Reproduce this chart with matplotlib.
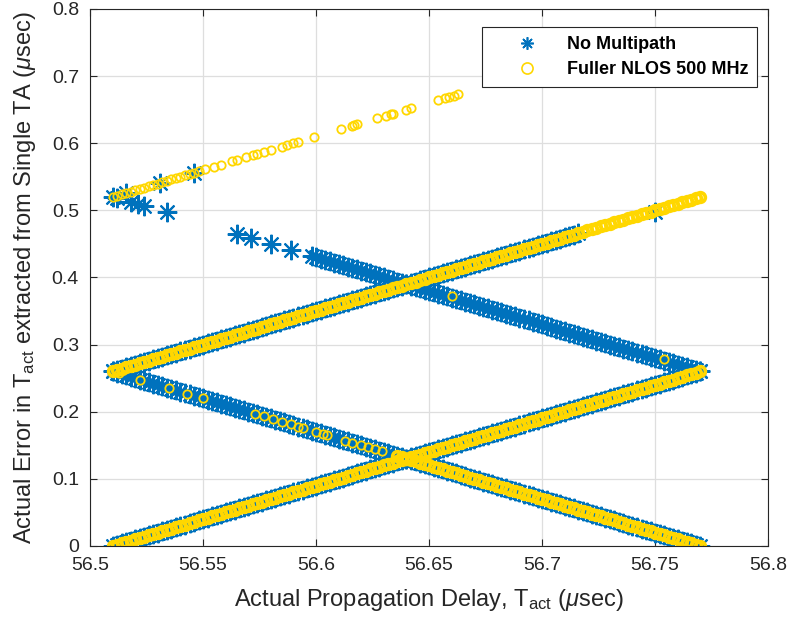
import matplotlib
matplotlib.use("Agg")
import numpy as np
import matplotlib.pyplot as plt
from matplotlib.lines import Line2D

# actual propagation delay grid (usec), shared by both runs
x_grid = [
    56.510, 56.512, 56.514, 56.516, 56.518, 56.520, 56.522, 56.524, 56.526, 56.528,
    56.530, 56.532, 56.534, 56.536, 56.538, 56.540, 56.542, 56.544, 56.546, 56.548,
    56.550, 56.552, 56.554, 56.556, 56.558, 56.560, 56.562, 56.564, 56.566, 56.568,
    56.570, 56.572, 56.574, 56.576, 56.578, 56.580, 56.582, 56.584, 56.586, 56.588,
    56.590, 56.592, 56.594, 56.596, 56.598, 56.600, 56.602, 56.604, 56.606, 56.608,
    56.610, 56.612, 56.614, 56.616, 56.618, 56.620, 56.622, 56.624, 56.626, 56.628,
    56.630, 56.632, 56.634, 56.636, 56.638, 56.640, 56.642, 56.644, 56.646, 56.648,
    56.650, 56.652, 56.654, 56.656, 56.658, 56.660, 56.662, 56.664, 56.666, 56.668,
    56.670, 56.672, 56.674, 56.676, 56.678, 56.680, 56.682, 56.684, 56.686, 56.688,
    56.690, 56.692, 56.694, 56.696, 56.698, 56.700, 56.702, 56.704, 56.706, 56.708,
    56.710, 56.712, 56.714, 56.716, 56.718, 56.720, 56.722, 56.724, 56.726, 56.728,
    56.730, 56.732, 56.734, 56.736, 56.738, 56.740, 56.742, 56.744, 56.746, 56.748,
    56.750, 56.752, 56.754, 56.756, 56.758, 56.760, 56.762, 56.764, 56.766, 56.768,
    56.770]

# error branches on that grid (usec)
err_rise = [
    0.000, 0.002, 0.004, 0.006, 0.008, 0.010, 0.012, 0.014, 0.016, 0.018,
    0.020, 0.022, 0.024, 0.026, 0.028, 0.030, 0.032, 0.034, 0.036, 0.038,
    0.040, 0.042, 0.044, 0.046, 0.048, 0.050, 0.052, 0.054, 0.056, 0.058,
    0.060, 0.062, 0.064, 0.066, 0.068, 0.070, 0.072, 0.074, 0.076, 0.078,
    0.080, 0.082, 0.084, 0.086, 0.088, 0.090, 0.092, 0.094, 0.096, 0.098,
    0.100, 0.102, 0.104, 0.106, 0.108, 0.110, 0.112, 0.114, 0.116, 0.118,
    0.120, 0.122, 0.124, 0.126, 0.128, 0.130, 0.132, 0.134, 0.136, 0.138,
    0.140, 0.142, 0.144, 0.146, 0.148, 0.150, 0.152, 0.154, 0.156, 0.158,
    0.160, 0.162, 0.164, 0.166, 0.168, 0.170, 0.172, 0.174, 0.176, 0.178,
    0.180, 0.182, 0.184, 0.186, 0.188, 0.190, 0.192, 0.194, 0.196, 0.198,
    0.200, 0.202, 0.204, 0.206, 0.208, 0.210, 0.212, 0.214, 0.216, 0.218,
    0.220, 0.222, 0.224, 0.226, 0.228, 0.230, 0.232, 0.234, 0.236, 0.238,
    0.240, 0.242, 0.244, 0.246, 0.248, 0.250, 0.252, 0.254, 0.256, 0.258,
    0.260]
err_fall = [
    0.260, 0.258, 0.256, 0.254, 0.252, 0.250, 0.248, 0.246, 0.244, 0.242,
    0.240, 0.238, 0.236, 0.234, 0.232, 0.230, 0.228, 0.226, 0.224, 0.222,
    0.220, 0.218, 0.216, 0.214, 0.212, 0.210, 0.208, 0.206, 0.204, 0.202,
    0.200, 0.198, 0.196, 0.194, 0.192, 0.190, 0.188, 0.186, 0.184, 0.182,
    0.180, 0.178, 0.176, 0.174, 0.172, 0.170, 0.168, 0.166, 0.164, 0.162,
    0.160, 0.158, 0.156, 0.154, 0.152, 0.150, 0.148, 0.146, 0.144, 0.142,
    0.140, 0.138, 0.136, 0.134, 0.132, 0.130, 0.128, 0.126, 0.124, 0.122,
    0.120, 0.118, 0.116, 0.114, 0.112, 0.110, 0.108, 0.106, 0.104, 0.102,
    0.100, 0.098, 0.096, 0.094, 0.092, 0.090, 0.088, 0.086, 0.084, 0.082,
    0.080, 0.078, 0.076, 0.074, 0.072, 0.070, 0.068, 0.066, 0.064, 0.062,
    0.060, 0.058, 0.056, 0.054, 0.052, 0.050, 0.048, 0.046, 0.044, 0.042,
    0.040, 0.038, 0.036, 0.034, 0.032, 0.030, 0.028, 0.026, 0.024, 0.022,
    0.020, 0.018, 0.016, 0.014, 0.012, 0.010, 0.008, 0.006, 0.004, 0.002,
    0.000]
err_rise_hi = [
    0.260, 0.262, 0.264, 0.266, 0.268, 0.270, 0.272, 0.274, 0.276, 0.278,
    0.280, 0.282, 0.284, 0.286, 0.288, 0.290, 0.292, 0.294, 0.296, 0.298,
    0.300, 0.302, 0.304, 0.306, 0.308, 0.310, 0.312, 0.314, 0.316, 0.318,
    0.320, 0.322, 0.324, 0.326, 0.328, 0.330, 0.332, 0.334, 0.336, 0.338,
    0.340, 0.342, 0.344, 0.346, 0.348, 0.350, 0.352, 0.354, 0.356, 0.358,
    0.360, 0.362, 0.364, 0.366, 0.368, 0.370, 0.372, 0.374, 0.376, 0.378,
    0.380, 0.382, 0.384, 0.386, 0.388, 0.390, 0.392, 0.394, 0.396, 0.398,
    0.400, 0.402, 0.404, 0.406, 0.408, 0.410, 0.412, 0.414, 0.416, 0.418,
    0.420, 0.422, 0.424, 0.426, 0.428, 0.430, 0.432, 0.434, 0.436, 0.438,
    0.440, 0.442, 0.444, 0.446, 0.448, 0.450, 0.452, 0.454, 0.456, 0.458,
    0.460, 0.462, 0.464, 0.466, 0.468, 0.470, 0.472, 0.474, 0.476, 0.478,
    0.480, 0.482, 0.484, 0.486, 0.488, 0.490, 0.492, 0.494, 0.496, 0.498,
    0.500, 0.502, 0.504, 0.506, 0.508, 0.510, 0.512, 0.514, 0.516, 0.518,
    0.520]
# upper falling branch, dense part (x_grid from 56.598 on)
err_fall_hi = [
    0.432, 0.430, 0.428, 0.426, 0.424, 0.422,
    0.420, 0.418, 0.416, 0.414, 0.412, 0.410, 0.408, 0.406, 0.404, 0.402,
    0.400, 0.398, 0.396, 0.394, 0.392, 0.390, 0.388, 0.386, 0.384, 0.382,
    0.380, 0.378, 0.376, 0.374, 0.372, 0.370, 0.368, 0.366, 0.364, 0.362,
    0.360, 0.358, 0.356, 0.354, 0.352, 0.350, 0.348, 0.346, 0.344, 0.342,
    0.340, 0.338, 0.336, 0.334, 0.332, 0.330, 0.328, 0.326, 0.324, 0.322,
    0.320, 0.318, 0.316, 0.314, 0.312, 0.310, 0.308, 0.306, 0.304, 0.302,
    0.300, 0.298, 0.296, 0.294, 0.292, 0.290, 0.288, 0.286, 0.284, 0.282,
    0.280, 0.278, 0.276, 0.274, 0.272, 0.270, 0.268, 0.266, 0.264, 0.262,
    0.260]

# No Multipath: isolated points
nomp_x = [56.510, 56.516, 56.531, 56.546,
          56.512, 56.518, 56.521, 56.524, 56.534,
          56.565, 56.571, 56.580, 56.589, 56.750]
nomp_y = [0.520, 0.526, 0.541, 0.556,
          0.518, 0.512, 0.509, 0.506, 0.497,
          0.465, 0.459, 0.450, 0.441, 0.498]

# Fuller NLOS 500 MHz: isolated points
nlos_top_x = [56.510, 56.512, 56.514, 56.516, 56.518, 56.520, 56.522, 56.524, 56.526, 56.528,
              56.530, 56.532, 56.534, 56.536, 56.538, 56.540, 56.542, 56.544, 56.546, 56.548,
              56.551, 56.555, 56.558, 56.563, 56.565, 56.569, 56.572, 56.574, 56.577, 56.580,
              56.585, 56.587, 56.590, 56.592, 56.599, 56.611, 56.616, 56.617, 56.618, 56.627,
              56.631, 56.633, 56.634, 56.640, 56.642, 56.654, 56.657, 56.659, 56.661, 56.663]
nlos_top_y = [0.520, 0.522, 0.524, 0.526, 0.528, 0.530, 0.532, 0.534, 0.536, 0.538,
              0.540, 0.542, 0.544, 0.546, 0.548, 0.550, 0.552, 0.554, 0.556, 0.558,
              0.561, 0.565, 0.568, 0.573, 0.575, 0.579, 0.582, 0.584, 0.587, 0.590,
              0.595, 0.597, 0.600, 0.602, 0.609, 0.621, 0.626, 0.627, 0.628, 0.637,
              0.641, 0.643, 0.644, 0.650, 0.652, 0.664, 0.667, 0.669, 0.671, 0.673]
nlos_fall_x = [56.513, 56.522, 56.535, 56.543, 56.550, 56.573, 56.577, 56.581, 56.585, 56.589,
               56.592, 56.594, 56.600, 56.603, 56.605, 56.613, 56.616, 56.620, 56.623, 56.626,
               56.629, 56.660, 56.754]
nlos_fall_y = [0.257, 0.248, 0.235, 0.227, 0.220, 0.197, 0.193, 0.189, 0.185, 0.181,
               0.178, 0.176, 0.170, 0.167, 0.165, 0.157, 0.154, 0.150, 0.147, 0.144,
               0.141, 0.373, 0.279]

x_ticks = [56.5, 56.55, 56.6, 56.65, 56.7, 56.75, 56.8]
x_tick_labels = ['56.5', '56.55', '56.6', '56.65', '56.7', '56.75', '56.8']
y_ticks = [0, 0.1, 0.2, 0.3, 0.4, 0.5, 0.6, 0.7, 0.8]
y_tick_labels = ['0', '0.1', '0.2', '0.3', '0.4', '0.5', '0.6', '0.7', '0.8']

blue = '#0072BD'
gold = '#FFD700'
dark = '#262626'

plt.rcParams['font.family'] = ['Liberation Sans', 'DejaVu Sans']
plt.rcParams['mathtext.fontset'] = 'custom'
plt.rcParams['mathtext.rm'] = 'Liberation Sans'
plt.rcParams['mathtext.it'] = 'Liberation Sans:italic'

xg = np.array(x_grid)
fig = plt.figure(figsize=(7.97, 6.23), dpi=100)
ax = fig.add_axes([0.113, 0.1236, 0.8507, 0.862])

star = dict(ls='none', marker=(8, 2, 0), ms=14, mew=1.5, color=blue)
ring = dict(ls='none', marker='o', ms=7, mew=2.6, mfc='none', mec=gold)
ring_sparse = dict(ls='none', marker='o', ms=6, mew=1.3, mfc='none', mec=gold)

# No Multipath
ax.plot(xg, err_rise, **star)
ax.plot(xg, err_fall, **star)
ax.plot(xg[:104], err_rise_hi[:104], **star)
ax.plot(xg[44:], err_fall_hi, **star)
ax.plot(nomp_x, nomp_y, **star)

# Fuller NLOS 500 MHz
ax.plot(xg, err_rise, **ring)
ax.plot(xg, err_rise_hi, **ring)
ax.plot(xg[63:], err_fall[63:], **ring)
ax.plot(nlos_fall_x, nlos_fall_y, **ring_sparse)
ax.plot(nlos_top_x, nlos_top_y, **ring_sparse)

ax.set_xlim(56.5, 56.8)
ax.set_ylim(0, 0.8)
ax.set_xticks(x_ticks)
ax.set_xticklabels(x_tick_labels)
ax.set_yticks(y_ticks)
ax.set_yticklabels(y_tick_labels)
ax.tick_params(direction='in', top=True, right=True, length=5, width=0.8,
               labelsize=14, colors=dark)
ax.tick_params(axis='x', pad=8)
ax.tick_params(axis='y', pad=8)
for s in ax.spines.values():
    s.set_color(dark)
    s.set_linewidth(0.8)
ax.grid(True, color='#DEDEDE', linewidth=0.9)
ax.set_axisbelow(True)

ax.set_xlabel('Actual Propagation Delay, T$_{\\rm act}$ ($\\mu$sec)', fontsize=17, color=dark, labelpad=9)
ax.set_ylabel('Actual Error in T$_{\\rm act}$ extracted from Single TA ($\\mu$sec)', fontsize=17, color=dark, labelpad=10)

handles = [Line2D([], [], ls='none', marker=(8, 2, 0), ms=9, mew=1.2, color=blue),
           Line2D([], [], ls='none', marker='o', ms=8, mew=1.2, mfc='none', mec=gold)]
leg = ax.legend(handles, ['No Multipath', 'Fuller NLOS 500 MHz'],
                loc='upper right', bbox_to_anchor=(0.984, 0.9665), borderaxespad=0,
                fancybox=False, framealpha=1, edgecolor=dark, handlelength=4.0,
                handletextpad=0.2, borderpad=0.5, labelspacing=0.45,
                prop={'weight': 'bold', 'size': 13})
leg.get_frame().set_linewidth(0.8)

fig.savefig('out.png', dpi=100)
